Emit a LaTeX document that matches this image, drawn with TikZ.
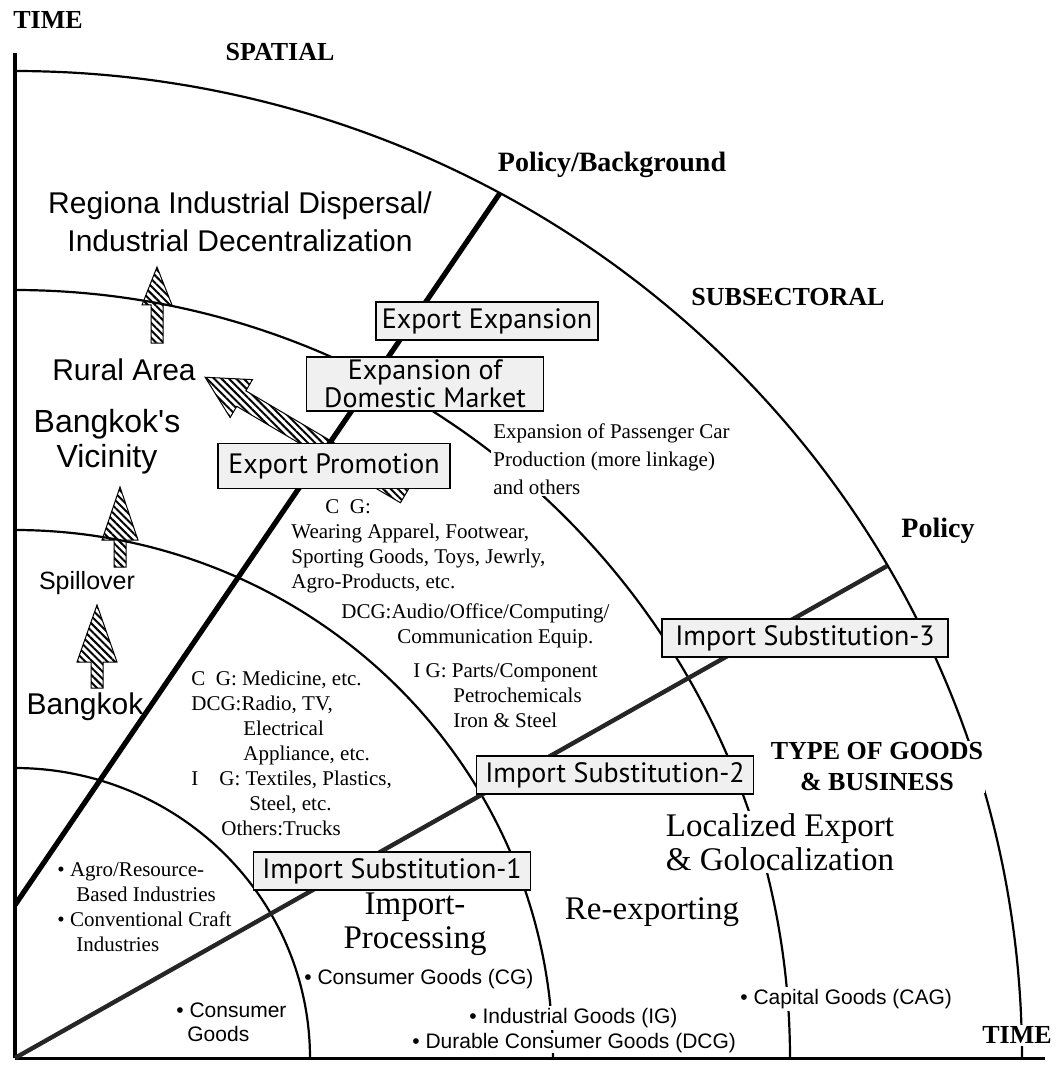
\documentclass[tikz,border=0pt]{standalone}
\usepackage{fontspec}
\setmainfont{Liberation Serif}
\newfontfamily\helvfont{Liberation Sans}
\newfontfamily\boxfont{PT Sans}
\usepackage{tikz}
\usetikzlibrary{patterns.meta}

\tikzset{
  ring/.style={line width=1.1pt},
  axis/.style={line width=2pt},
  policy/.style={line width=2.6pt},
  stagebox/.style={draw, line width=0.6pt, fill=gray!12, inner sep=1pt, align=center,
    font=\boxfont\fontsize{14}{14}\selectfont},
  headlabel/.style={font=\bfseries\fontsize{13}{15.5}\selectfont, inner sep=1pt},
  regionlabel/.style={font=\helvfont\fontsize{15}{19}\selectfont, inner sep=1pt, align=center},
  stagelabel/.style={font=\fontsize{16.5}{17}\selectfont, inner sep=1pt},
  note/.style={font=\fontsize{10.5}{12.5}\selectfont, inner sep=0pt, align=left},
  goodslabel/.style={font=\helvfont\fontsize{10.5}{12}\selectfont, inner sep=1pt, align=left},
  hatch/.style={draw, line width=0.5pt, pattern={Lines[angle=-45, distance=2.6pt, line width=1pt]}},
}

\begin{document}
\begin{tikzpicture}[x=0.5pt, y=-0.5pt]
    \useasboundingbox (0,0) rectangle (1057,1069);
    % origin of the quadrant
    \def\ox{15}
    \def\oy{1058}
    \coordinate (O) at (\ox,\oy);

    % rings
    \foreach \rx/\ry in {295/290, 538/528, 775/768, 1007/987} {
      \draw[ring] plot[domain=0:90, samples=90, smooth] ({\ox+\rx*cos(\x)},{\oy-\ry*sin(\x)});
    }

    % axes
    \coordinate (yTop) at (\ox,53);
    \coordinate (xEnd) at (1045,\oy);
    \draw[axis] (O) -- (yTop);
    \draw[axis, line width=1.5pt] (O) -- (xEnd);

    % policy lines
    \coordinate (bgStart) at (\ox,905);
    \coordinate (bgEnd) at (500,193);
    \coordinate (polEnd) at (887,566);
    \draw[policy] (bgStart) -- (bgEnd);
    \draw[policy, line width=2.2pt, black!85] (O) -- (polEnd);

    % hatched arrows: tail x/y, angle, length, head length, head half width, shaft half width
    \foreach \tx/\ty/\ang/\len/\hl/\hw/\sw in {157/343/90/76/38/15/6, 120/567/90/80/53/18/6,
        97/688/90/83/57/20/6, 405/495/149.5/232/42/22/9} {
      \begin{scope}[shift={(\tx,\ty)}, rotate=\ang]
        \path[hatch] (0,-\sw) -- (\len-\hl,-\sw) -- (\len-\hl,-\hw) -- (\len,0)
          -- (\len-\hl,\hw) -- (\len-\hl,\sw) -- (0,\sw) -- cycle;
      \end{scope}
    }

    % axis titles
    \node[headlabel] (timeY) at (48,20) {TIME};
    \node[headlabel] (spatial) at (280,52) {SPATIAL};
    \node[headlabel, font=\bfseries\fontsize{14}{16}\selectfont] (polbg) at (612,165) {Policy/Background};
    \node[headlabel] (subsec) at (788,297) {SUBSECTORAL};
    \node[headlabel, font=\bfseries\fontsize{14}{16}\selectfont] (policy) at (938,531) {Policy};
    \node[headlabel, align=center, fill=white] (goods) at (877,767) {TYPE OF GOODS\\\& BUSINESS};
    \node[headlabel, fill=white] (timeX) at (1017,1035) {TIME};

    % spatial stages
    \node[regionlabel] (dispersal) at (240,222) {Regiona Industrial Dispersal/\\Industrial Decentralization};
    \node[regionlabel] (rural) at (124,370) {Rural Area};
    \node[regionlabel, font=\helvfont\fontsize{16}{17.5}\selectfont] (vicinity) at (107,442) {Bangkok's\\Vicinity};
    \node[regionlabel, font=\helvfont\fontsize{12.5}{14}\selectfont] (spill) at (87,583) {Spillover};
    \node[regionlabel] (bangkok) at (85,707) {Bangkok};

    % policy boxes
    \node[stagebox, minimum width=111pt, minimum height=19pt] (expexp) at (487,321) {Export Expansion};
    \node[stagebox, minimum width=118.5pt, minimum height=27pt] (domestic) at (425,384) {Expansion of\\Domestic Market};
    \node[stagebox, minimum width=116pt, minimum height=22.5pt] (exppro) at (334,466) {Export Promotion};
    \node[stagebox, minimum width=138.5pt, minimum height=19pt] (is1) at (392,871) {Import Substitution-1};
    \node[stagebox, minimum width=138.5pt, minimum height=19pt] (is2) at (615,775) {Import Substitution-2};
    \node[stagebox, minimum width=143pt, minimum height=19pt] (is3) at (805,638) {Import Substitution-3};

    % type of business
    \node[stagelabel, align=center] (impproc) at (415,924) {Import-\\Processing};
    \node[stagelabel] (reexp) at (652,912) {Re-exporting};
    \node[stagelabel, align=left, fill=white] (localized) at (780,842) {Localized Export\\\& Golocalization};

    % goods
    \node[goodslabel, anchor=west] (cg) at (302,979) {• Consumer Goods (CG)};
    \node[goodslabel, anchor=west, fill=white] (ig) at (467,1018) {• Industrial Goods (IG)};
    \node[goodslabel, anchor=west, fill=white, inner sep=0pt] (dcg) at (412,1043) {• Durable Consumer Goods (DCG)};
    \node[goodslabel, anchor=west, fill=white] (cag) at (738,999) {• Capital Goods (CAG)};
    \node[goodslabel, anchor=north west] (cons) at (174,1000) {• Consumer\\\hspace*{5.5pt}Goods};

    % subsectors
    \node[note, anchor=north west] (exportgoods) at (291,499) {\hspace*{17pt}C\ \ G:\\Wearing Apparel, Footwear,\\Sporting Goods, Toys, Jewrly,\\Agro-Products, etc.};
    \node[note, anchor=north west] (audio) at (341,603) {DCG:Audio/Office/Computing/\\\hspace*{28pt}Communication Equip.};
    \node[note, anchor=north west] (parts) at (413,663) {I G: Parts/Component\\\hspace*{20pt}Petrochemicals\\\hspace*{20pt}Iron \& Steel};
    \node[note, anchor=north west] (medicine) at (191,671) {C\ \ G: Medicine, etc.\\DCG:Radio, TV,\\\hspace*{26pt}Electrical\\\hspace*{26pt}Appliance, etc.\\I\ \ \ \ G: Textiles, Plastics,\\\hspace*{29pt}Steel, etc.\\\hspace*{15pt}Others:Trucks};
    \node[note, anchor=north west, fill=white, inner sep=1pt, font=\fontsize{10.5}{14}\selectfont] (passenger) at (491,421) {Expansion of Passenger Car\\Production (more linkage)\\and others};
    \node[note, anchor=north west] (agro) at (57,862) {• Agro/Resource-\\\hspace*{9.5pt}Based Industries\\• Conventional Craft\\\hspace*{9.5pt}Industries};

\end{tikzpicture}
\end{document}
